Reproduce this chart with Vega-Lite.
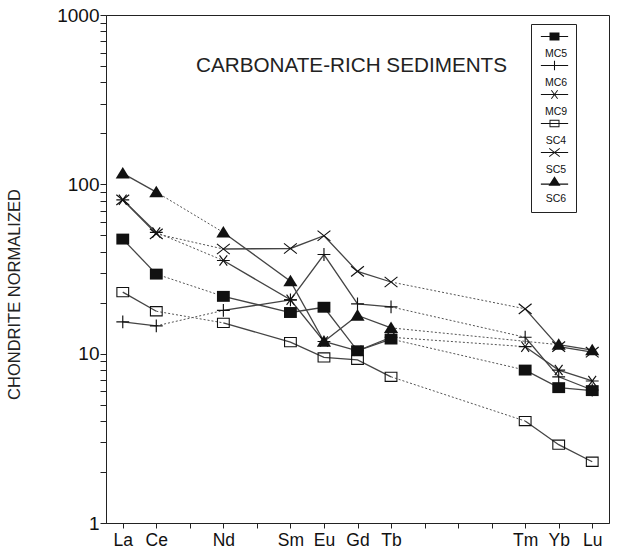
{
  "$schema": "https://vega.github.io/schema/vega-lite/v6.json",
  "autosize": "none",
  "width": 503,
  "height": 508,
  "padding": {"left": 106, "top": 15, "right": 13, "bottom": 32},
  "background": "white",
  "config": {
    "view": {"stroke": "#222", "strokeWidth": 1},
    "font": "Liberation Sans"
  },
  "title": {
    "text": "CARBONATE-RICH SEDIMENTS",
    "font": "Liberation Sans",
    "fontSize": 20.7,
    "fontWeight": "normal",
    "color": "#222",
    "anchor": "middle",
    "frame": "group",
    "baseline": "alphabetic",
    "offset": 0,
    "dy": 87,
    "dx": -6
  },
  "data": {
    "values": [
      {"sample": "MC5", "element": "La", "value": 47.5},
      {"sample": "MC5", "element": "Ce", "value": 29.5},
      {"sample": "MC5", "element": "Nd", "value": 21.8},
      {"sample": "MC5", "element": "Sm", "value": 17.5},
      {"sample": "MC5", "element": "Eu", "value": 18.8},
      {"sample": "MC5", "element": "Gd", "value": 10.4},
      {"sample": "MC5", "element": "Tb", "value": 12.2},
      {"sample": "MC5", "element": "Tm", "value": 8.0},
      {"sample": "MC5", "element": "Yb", "value": 6.3},
      {"sample": "MC5", "element": "Lu", "value": 6.05},
      {"sample": "MC6", "element": "La", "value": 15.4},
      {"sample": "MC6", "element": "Ce", "value": 14.6},
      {"sample": "MC6", "element": "Nd", "value": 18.0},
      {"sample": "MC6", "element": "Sm", "value": 20.8},
      {"sample": "MC6", "element": "Eu", "value": 38.5},
      {"sample": "MC6", "element": "Gd", "value": 19.7},
      {"sample": "MC6", "element": "Tb", "value": 18.9},
      {"sample": "MC6", "element": "Tm", "value": 12.5},
      {"sample": "MC6", "element": "Yb", "value": 7.3},
      {"sample": "MC6", "element": "Lu", "value": 6.1},
      {"sample": "MC9", "element": "La", "value": 81},
      {"sample": "MC9", "element": "Ce", "value": 52},
      {"sample": "MC9", "element": "Nd", "value": 35.5},
      {"sample": "MC9", "element": "Sm", "value": 20.8},
      {"sample": "MC9", "element": "Eu", "value": 11.8},
      {"sample": "MC9", "element": "Gd", "value": 10.4},
      {"sample": "MC9", "element": "Tb", "value": 12.5},
      {"sample": "MC9", "element": "Tm", "value": 11.0},
      {"sample": "MC9", "element": "Yb", "value": 8.0},
      {"sample": "MC9", "element": "Lu", "value": 6.9},
      {"sample": "SC4", "element": "La", "value": 23.1},
      {"sample": "SC4", "element": "Ce", "value": 17.8},
      {"sample": "SC4", "element": "Nd", "value": 15.2},
      {"sample": "SC4", "element": "Sm", "value": 11.7},
      {"sample": "SC4", "element": "Eu", "value": 9.5},
      {"sample": "SC4", "element": "Gd", "value": 9.2},
      {"sample": "SC4", "element": "Tb", "value": 7.3},
      {"sample": "SC4", "element": "Tm", "value": 4.0},
      {"sample": "SC4", "element": "Yb", "value": 2.9},
      {"sample": "SC4", "element": "Lu", "value": 2.3},
      {"sample": "SC5", "element": "La", "value": 81},
      {"sample": "SC5", "element": "Ce", "value": 51},
      {"sample": "SC5", "element": "Nd", "value": 41.5},
      {"sample": "SC5", "element": "Sm", "value": 41.8},
      {"sample": "SC5", "element": "Eu", "value": 49.7},
      {"sample": "SC5", "element": "Gd", "value": 30.6},
      {"sample": "SC5", "element": "Tb", "value": 26.5},
      {"sample": "SC5", "element": "Tm", "value": 18.4},
      {"sample": "SC5", "element": "Yb", "value": 11.0},
      {"sample": "SC5", "element": "Lu", "value": 10.2},
      {"sample": "SC6", "element": "La", "value": 116},
      {"sample": "SC6", "element": "Ce", "value": 90},
      {"sample": "SC6", "element": "Nd", "value": 52},
      {"sample": "SC6", "element": "Sm", "value": 26.8},
      {"sample": "SC6", "element": "Eu", "value": 11.8},
      {"sample": "SC6", "element": "Gd", "value": 16.8},
      {"sample": "SC6", "element": "Tb", "value": 14.2},
      {"sample": "SC6", "element": "Yb", "value": 11.3},
      {"sample": "SC6", "element": "Lu", "value": 10.5}
    ]
  },
  "encoding": {
    "x": {
      "field": "element",
      "type": "ordinal",
      "sort": ["La","Ce","Pr","Nd","Pm","Sm","Eu","Gd","Tb","Dy","Ho","Er","Tm","Yb","Lu"],
      "scale": {
        "type": "point",
        "domain": ["La","Ce","Pr","Nd","Pm","Sm","Eu","Gd","Tb","Dy","Ho","Er","Tm","Yb","Lu"],
        "padding": 0.5
      },
      "axis": {
        "title": null,
        "labelAngle": 0,
        "labelExpr": "indexof(['Pr','Pm','Dy','Ho','Er'], datum.value) >= 0 ? '' : datum.value",
        "labelFont": "Liberation Sans",
        "labelFontSize": 17.5,
        "labelColor": "#111",
        "labelPadding": 3,
        "tickSize": 5,
        "tickColor": "#222",
        "domainColor": "#222",
        "grid": false,
        "labelOverlap": false
      }
    },
    "y": {
      "field": "value",
      "type": "quantitative",
      "scale": {"type": "log", "domain": [1, 1000], "nice": false},
      "axis": {
        "title": "CHONDRITE NORMALIZED",
        "titleFont": "Liberation Sans",
        "titleFontSize": 16.5,
        "titleFontWeight": "normal",
        "titleColor": "#222",
        "titleX": -92,
        "titleY": 279,
        "titleAlign": "center",
        "titleBaseline": "middle",
        "titleAngle": 270,
        "values": [1,2,3,4,5,6,7,8,9,10,20,30,40,50,60,70,80,90,100,200,300,400,500,600,700,800,900,1000],
        "labelExpr": "indexof([1,10,100,1000], datum.value) >= 0 ? format(datum.value, 'd') : ''",
        "labelFont": "Liberation Sans",
        "labelFontSize": 19,
        "labelColor": "#111",
        "labelPadding": 1,
        "labelOverlap": false,
        "labelFlush": false,
        "tickSize": 6,
        "tickColor": "#222",
        "domainColor": "#222",
        "grid": false
      }
    }
  },
  "layer": [
    {
      "transform": [{"filter": {"field": "element", "oneOf": ["Ce", "Nd"]}}],
      "mark": {"type": "line", "stroke": "#555", "strokeWidth": 1, "strokeDash": [2, 2]},
      "encoding": {"detail": {"field": "sample"}}
    },
    {
      "transform": [{"filter": {"field": "element", "oneOf": ["Tb", "Tm"]}}],
      "mark": {"type": "line", "stroke": "#555", "strokeWidth": 1, "strokeDash": [2, 2]},
      "encoding": {"detail": {"field": "sample"}}
    },
    {
      "transform": [{"filter": {"and": [{"field": "sample", "equal": "SC6"}, {"field": "element", "oneOf": ["Tb", "Yb"]}]}}],
      "mark": {"type": "line", "stroke": "#555", "strokeWidth": 1, "strokeDash": [2, 2]},
      "encoding": {"detail": {"field": "sample"}}
    },
    {
      "transform": [{"filter": {"field": "element", "oneOf": ["La", "Ce"]}}],
      "mark": {"type": "line", "stroke": "#444", "strokeWidth": 1.3},
      "encoding": {"detail": {"field": "sample"}}
    },
    {
      "transform": [{"filter": {"field": "element", "oneOf": ["Nd", "Sm", "Eu", "Gd", "Tb"]}}],
      "mark": {"type": "line", "stroke": "#444", "strokeWidth": 1.3},
      "encoding": {"detail": {"field": "sample"}}
    },
    {
      "transform": [{"filter": {"field": "element", "oneOf": ["Tm", "Yb", "Lu"]}}],
      "mark": {"type": "line", "stroke": "#444", "strokeWidth": 1.3},
      "encoding": {"detail": {"field": "sample"}}
    },
    {
      "mark": {"type": "point", "filled": true, "opacity": 1, "color": "#111", "strokeWidth": 0, "size": 165},
      "encoding": {
        "shape": {
          "field": "sample",
          "type": "nominal",
          "scale": {
            "domain": ["MC5", "MC6", "MC9", "SC4", "SC5", "SC6"],
            "range": [
              "M-1,-0.85H1V0.85H-1Z",
              "M-1,-0.09H-0.09V-1H0.09V-0.09H1V0.09H0.09V1H-0.09V0.09H-1Z",
              "M-1,-0.09V0.09H1V-0.09Z M-0.672,-0.746L0.528,0.854L0.672,0.746L-0.528,-0.854Z M-0.528,0.854L0.672,-0.746L0.528,-0.854L-0.672,0.746Z",
              "M-1,-0.8H1V0.8H-1Z M-0.83,-0.63V0.63H0.83V-0.63Z",
              "M-1.056,-0.73L0.944,0.87L1.056,0.73L-0.944,-0.87Z M-0.944,0.87L1.056,-0.73L0.944,-0.87L-1.056,0.73Z",
              "M0,-1L1.1,0.8L-1.1,0.8Z"
            ]
          },
          "legend": null
        }
      }
    },
    {
      "mark": {"type": "point", "filled": true, "opacity": 0, "color": "#111", "strokeWidth": 0, "size": 110},
      "encoding": {
        "shape": {
          "field": "sample",
          "type": "nominal",
          "scale": {
            "domain": ["MC5", "MC6", "MC9", "SC4", "SC5", "SC6"],
            "range": [
              "M-2.6,-0.1H2.6V0.1H-2.6Z M-0.95,-0.75H0.95V0.75H-0.95Z",
              "M-2.6,-0.1H2.6V0.1H-2.6Z M-0.1,-0.9H0.1V0.9H-0.1Z",
              "M-2.6,-0.1V0.1H2.6V-0.1Z M-0.672,-0.746L0.528,0.854L0.672,0.746L-0.528,-0.854Z M-0.528,0.854L0.672,-0.746L0.528,-0.854L-0.672,0.746Z",
              "M-2.6,-0.1H2.6V0.1H-2.6Z M-0.95,-0.7H0.95V0.7H-0.95Z M-0.77,-0.52V0.52H0.77V-0.52Z",
              "M-2.6,-0.1V0.1H2.6V-0.1Z M-1.056,-0.73L0.944,0.87L1.056,0.73L-0.944,-0.87Z M-0.944,0.87L1.056,-0.73L0.944,-0.87L-1.056,0.73Z",
              "M-2.6,0.4H2.6V0.6H-2.6Z M0,-1L1.15,0.8L-1.15,0.8Z"
            ]
          },
          "legend": {
            "title": null,
            "orient": "none",
            "legendX": 425,
            "legendY": 9,
            "padding": 7,
            "strokeColor": "#222",
            "fillColor": "white",
            "labelFont": "Liberation Sans",
            "labelFontSize": 10.5,
            "labelColor": "#111",
            "labelBaseline": "top",
            "labelAlign": "center",
            "labelOffset": -4,
            "labelExpr": "['', datum.label]",
            "rowPadding": -1,
            "symbolSize": 110,
            "symbolOffset": 11,
            "symbolFillColor": "#111",
            "symbolStrokeWidth": 0,
            "symbolOpacity": 1
          }
        }
      }
    }
  ],
  "resolve": {"scale": {"shape": "independent"}, "legend": {"shape": "independent"}}
}
